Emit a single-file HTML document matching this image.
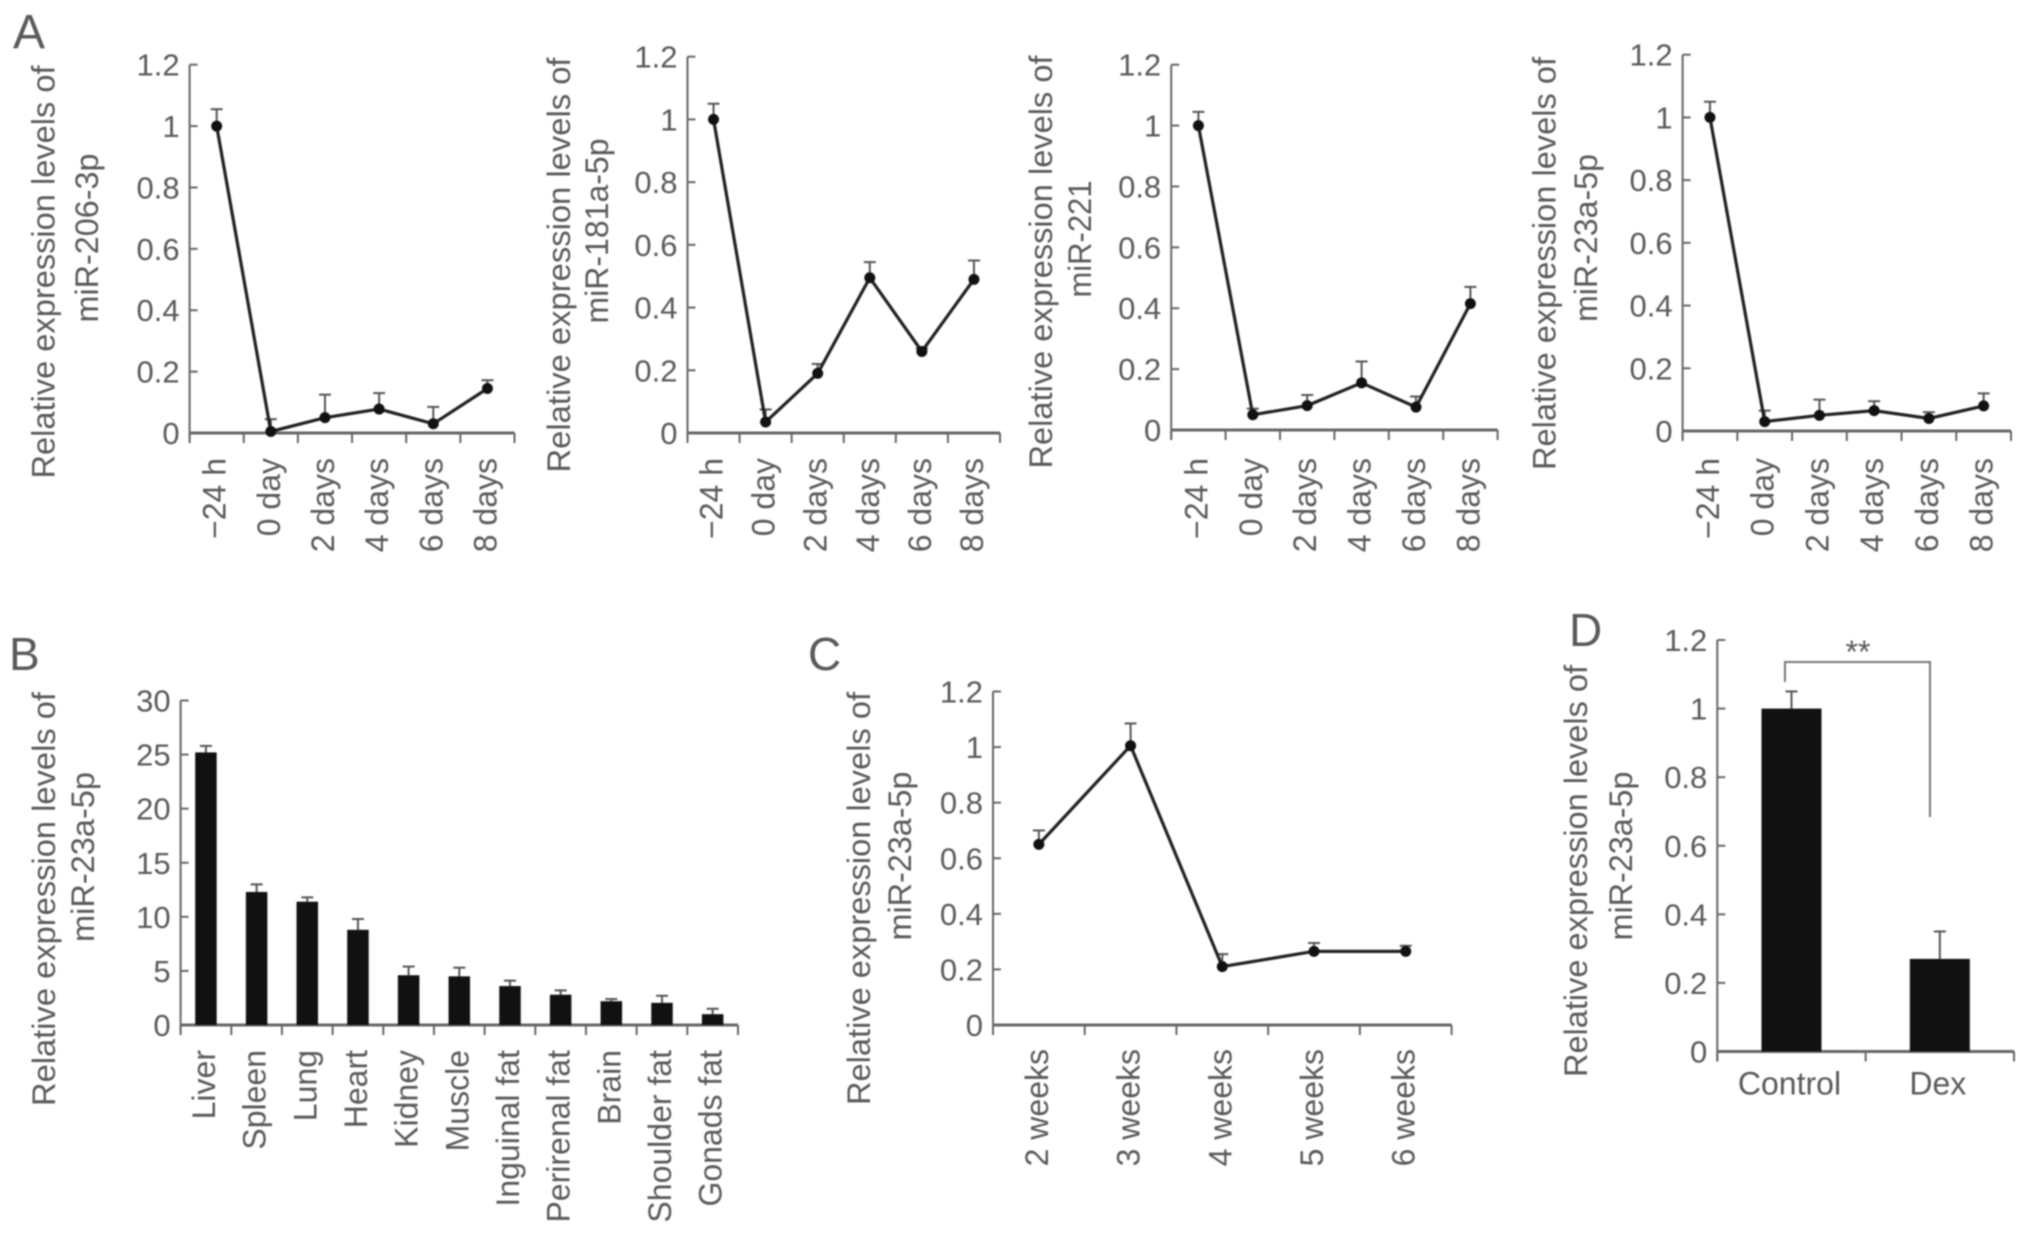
<!DOCTYPE html>
<html lang="en">
<head>
<meta charset="utf-8">
<title>miRNA relative expression levels</title>
<style>
html,body{margin:0;padding:0;background:#fff;}
#figure{display:block;width:2031px;height:1235px;filter:blur(.7px);}
text{font-family:"Liberation Sans",sans-serif;fill:#5a5a5a;}
</style>
</head>
<body>
<svg id="figure" xmlns="http://www.w3.org/2000/svg" width="2031" height="1235" viewBox="0 0 2031 1235"></svg>
<script>
const timeCategories = ['\u221224 h', '0 day', '2 days', '4 days', '6 days', '8 days'];
const weekCategories = ['2 weeks', '3 weeks', '4 weeks', '5 weeks', '6 weeks'];
const tissueCategories = ['Liver', 'Spleen', 'Lung', 'Heart', 'Kidney', 'Muscle', 'Inguinal fat', 'Perirenal fat', 'Brain', 'Shoulder fat', 'Gonads fat'];
const treatmentCategories = ['Control', 'Dex'];

const ratioTicks = [0, 0.2, 0.4, 0.6, 0.8, 1, 1.2];
const tissueTicks = [0, 5, 10, 15, 20, 25, 30];

const mir206Values = [1, 0.005, 0.05, 0.078, 0.03, 0.145];
const mir206ErrorTops = [1.055, 0.045, 0.125, 0.13, 0.085, 0.172];
const mir181Values = [1, 0.035, 0.19, 0.495, 0.26, 0.49];
const mir181ErrorTops = [1.05, 0.075, 0.22, 0.545, 0.27, 0.55];
const mir221Values = [1, 0.05, 0.08, 0.155, 0.075, 0.415];
const mir221ErrorTops = [1.045, 0.07, 0.115, 0.225, 0.11, 0.47];
const mir23Values = [1, 0.03, 0.05, 0.065, 0.04, 0.08];
const mir23ErrorTops = [1.05, 0.065, 0.1, 0.095, 0.06, 0.12];
const tissueValues = [25.2, 12.3, 11.4, 8.8, 4.6, 4.5, 3.6, 2.8, 2.2, 2.05, 1];
const tissueErrorTops = [25.8, 13, 11.8, 9.8, 5.4, 5.3, 4.1, 3.2, 2.4, 2.7, 1.5];
const weekValues = [0.65, 1.005, 0.21, 0.265, 0.265];
const weekErrorTops = [0.7, 1.085, 0.255, 0.295, 0.285];
const treatmentValues = [1, 0.27];
const treatmentErrorTops = [1.05, 0.35];

const svg = document.getElementById('figure');
const NS = 'http://www.w3.org/2000/svg';
const INK = '#222';
const AXIS = '#666';

function mk(parent, tag, attrs, name) {
  const el = document.createElementNS(NS, tag);
  Object.keys(attrs).forEach(function (k) { el.setAttribute(k, attrs[k]); });
  
  
  parent.appendChild(el);
  return el;
}
function line(parent, x1, y1, x2, y2, color, width, name) {
  return mk(parent, 'line', { x1: x1, y1: y1, x2: x2, y2: y2, stroke: color, 'stroke-width': width }, name);
}
function label(parent, str, x, y, size, anchor, rot, name, extra) {
  const attrs = { x: x, y: y, 'font-size': size, 'text-anchor': anchor };
  if (rot) attrs.transform = 'rotate(-90 ' + x + ' ' + y + ')';
  if (extra) Object.keys(extra).forEach(function (k) { attrs[k] = extra[k]; });
  const t = mk(parent, 'text', attrs, name);
  t.textContent = str;
  return t;
}

function drawFrame(g, f, cats, ticks, max, slug) {
  const yScale = function (v) { return f.y0 - (v / max) * (f.y0 - f.yTop); };
  const band = (f.x1 - f.x0) / cats.length;
  const xScale = function (i) { return f.x0 + (i + 0.5) * band; };
  line(g, f.x0, f.yTop, f.x0, f.y0 + 10, AXIS, 2, slug + '-y-axis');
  line(g, f.x0, f.y0, f.x1, f.y0, AXIS, 3, slug + '-x-axis');
  ticks.forEach(function (v) {
    line(g, f.x0, yScale(v), f.x0 + 8, yScale(v), AXIS, 2, slug + '-y-tick');
    label(g, String(v), f.x0 - 10, yScale(v) + 11, 31, 'end', false, slug + '-y-tick-label');
  });
  for (let i = 0; i <= cats.length; i++) {
    line(g, f.x0 + i * band, f.y0, f.x0 + i * band, f.y0 + 10, AXIS, 2, slug + '-x-tick');
  }
  cats.forEach(function (c, i) {
    if (f.flat) {
      label(g, c, xScale(i) - 2, f.y0 + 43, 32, 'middle', false, slug + '-x-label');
    } else {
      label(g, c, xScale(i) + 9, f.labelTop, 32, 'end', true, slug + '-x-label');
    }
  });
  f.titles.forEach(function (tt, i) {
    const name = slug + (i === 0 ? '-y-title-line-1' : '-y-title-line-2');
    label(g, tt.text, tt.x + 11, tt.cy, 32, 'middle', true, name, { textLength: tt.len, lengthAdjust: 'spacingAndGlyphs' });
  });
  return { yScale: yScale, xScale: xScale, band: band, y0: f.y0 };
}

function drawErrors(g, s, values, tops, slug, cap) {
  values.forEach(function (v, i) {
    const x = s.xScale(i);
    line(g, x, s.yScale(v), x, s.yScale(tops[i]), '#555', 2, slug + '-error-stem');
    line(g, x - cap, s.yScale(tops[i]), x + cap, s.yScale(tops[i]), '#555', 2, slug + '-error-cap');
  });
}

function lineChart(f, cats, ticks, max, values, tops, slug) {
  const g = mk(svg, 'g', {}, slug);
  const s = drawFrame(g, f, cats, ticks, max, slug);
  drawErrors(g, s, values, tops, slug, 6);
  const pts = values.map(function (v, i) { return s.xScale(i) + ',' + s.yScale(v); }).join(' ');
  mk(g, 'polyline', { points: pts, fill: 'none', stroke: INK, 'stroke-width': 3.2 }, slug + '-series-line');
  values.forEach(function (v, i) {
    mk(g, 'circle', { cx: s.xScale(i), cy: s.yScale(v), r: 5.5, fill: '#111' }, slug + '-point');
  });
}

function barChart(f, cats, ticks, max, values, tops, slug, barWidth, cap) {
  const g = mk(svg, 'g', {}, slug);
  const s = drawFrame(g, f, cats, ticks, max, slug);
  drawErrors(g, s, values, tops, slug, cap);
  values.forEach(function (v, i) {
    mk(g, 'rect', { x: s.xScale(i) - barWidth / 2, y: s.yScale(v), width: barWidth, height: s.y0 - s.yScale(v), fill: '#111' }, slug + '-bar');
  });
  return { g: g, s: s };
}

lineChart({ x0: 189.6, x1: 514.5, yTop: 64.7, y0: 433, labelTop: 458, titles: [
  { text: 'Relative expression levels of', x: 43.5, cy: 272, len: 413 },
  { text: 'miR-206-3p', x: 87, cy: 238, len: 169 }] },
  timeCategories, ratioTicks, 1.2, mir206Values, mir206ErrorTops, 'panel-a-mir-206-3p');

lineChart({ x0: 687.5, x1: 1000, yTop: 56.7, y0: 433, labelTop: 458, titles: [
  { text: 'Relative expression levels of', x: 559, cy: 265, len: 415 },
  { text: 'miR-181a-5p', x: 597, cy: 231, len: 185 }] },
  timeCategories, ratioTicks, 1.2, mir181Values, mir181ErrorTops, 'panel-a-mir-181a-5p');

lineChart({ x0: 1171.2, x1: 1497.6, yTop: 64.7, y0: 430, labelTop: 458, titles: [
  { text: 'Relative expression levels of', x: 1041, cy: 262, len: 413 },
  { text: 'miR-221', x: 1080, cy: 239, len: 117 }] },
  timeCategories, ratioTicks, 1.2, mir221Values, mir221ErrorTops, 'panel-a-mir-221');

lineChart({ x0: 1682.6, x1: 2011, yTop: 54.7, y0: 431, labelTop: 458, titles: [
  { text: 'Relative expression levels of', x: 1544.5, cy: 263.5, len: 413 },
  { text: 'miR-23a-5p', x: 1586, cy: 238, len: 168 }] },
  timeCategories, ratioTicks, 1.2, mir23Values, mir23ErrorTops, 'panel-a-mir-23a-5p');

barChart({ x0: 180.6, x1: 738, yTop: 700.5, y0: 1025, labelTop: 1050, titles: [
  { text: 'Relative expression levels of', x: 44, cy: 899, len: 414 },
  { text: 'miR-23a-5p', x: 83, cy: 857, len: 170 }] },
  tissueCategories, tissueTicks, 30, tissueValues, tissueErrorTops, 'panel-b-tissues', 21.5, 6);

lineChart({ x0: 993, x1: 1451.6, yTop: 691.5, y0: 1025, labelTop: 1049, titles: [
  { text: 'Relative expression levels of', x: 859, cy: 898.5, len: 413 },
  { text: 'miR-23a-5p', x: 900, cy: 856, len: 169 }] },
  weekCategories, ratioTicks, 1.2, weekValues, weekErrorTops, 'panel-c-weeks');

const panelD = barChart({ x0: 1717.3, x1: 2014, yTop: 640, y0: 1051.5, flat: true, titles: [
  { text: 'Relative expression levels of', x: 1576, cy: 871, len: 412 },
  { text: 'miR-23a-5p', x: 1621, cy: 856, len: 169 }] },
  treatmentCategories, ratioTicks, 1.2, treatmentValues, treatmentErrorTops, 'panel-d-treatment', 60, 6);

mk(panelD.g, 'polyline', { points: '1785,682 1785,662 1930,662 1930,817', fill: 'none', stroke: '#777', 'stroke-width': 2 }, 'significance-bracket');
label(panelD.g, '**', 1858, 663, 32, 'middle', false, 'significance-stars');

label(svg, 'A', 13, 48, 48, 'start', false, 'panel-label-a');
label(svg, 'B', 9, 670, 46, 'start', false, 'panel-label-b');
label(svg, 'C', 808, 670, 46, 'start', false, 'panel-label-c');
label(svg, 'D', 1569, 646, 46, 'start', false, 'panel-label-d');
</script>
</body>
</html>
